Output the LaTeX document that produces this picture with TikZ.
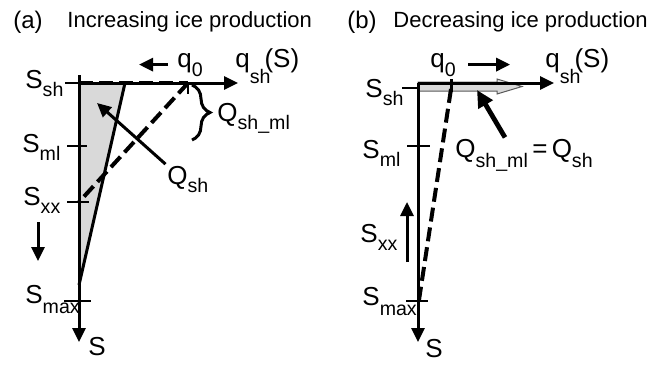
\documentclass[tikz,border=0pt]{standalone}
\usepackage{fontspec}
\setmainfont{Liberation Sans}
\usetikzlibrary{arrows.meta,positioning,calc,decorations.pathreplacing}
\newcommand{\lowsub}[2][4pt]{\raisebox{-#1}{\fontsize{9.8}{10}\selectfont #2}}
\newcommand{\lblfont}{\fontsize{13}{15}\selectfont}

\begin{document}
\begin{tikzpicture}[x=0.5pt,y=-0.5pt,
   lbl/.style={font=\lblfont,inner sep=0pt,anchor=base west},
   ttl/.style={font=\fontsize{11}{13}\selectfont,inner sep=0pt,anchor=base west},
   panel/.style={font=\fontsize{12}{14}\selectfont,inner sep=0pt,anchor=base west},
   axis/.style={line width=1.5pt,-{Triangle[length=7pt,width=6.5pt]}},
   tick/.style={line width=0.6pt},
   dashline/.style={line width=2pt,dash pattern=on 7pt off 3pt},
   movearrow/.style={line width=1.5pt,-{Triangle[length=7pt,width=6.5pt]}},
   fluxarrow/.style={line width=2.4pt,-{Triangle[length=8.5pt,width=8pt]}}]
  \useasboundingbox (0,0) rectangle (667,364);

  % ---- (a) increasing ice production
  \node[panel] (pa) at (13,28) {(a)};
  \node[ttl] (ta) at (67,27) {Increasing ice production};

  \coordinate (aO) at (79,83);
  \coordinate (aTop) at (79,75);
  \coordinate (aX) at (238,83);
  \coordinate (aY) at (79,342);
  \coordinate (aQ) at (188,83);
  \coordinate (aR) at (125,83);
  \coordinate (aB) at (79,285);
  \coordinate (aML) at (79,146);
  \coordinate (aXX) at (79,202);
  \coordinate (aMX) at (79,301);
  \coordinate (aIn) at (97,103);

  \fill[black!15] (aO) -- (aR) -- (aB) -- cycle;
  \draw[line width=1.5pt] (aR) -- (aB);
  \draw[dashline] (aQ) -- (aXX);
  \draw[axis] (aTop) -- (aY);
  \draw[axis] (aO) -- (aX);
  \draw[dashline] (aO) -- (aQ);
  \draw[tick] (aO) -- ++(-14,0);
  \draw[tick] ($(aML)+(-12,0)$) -- ++(20,0);
  \draw[tick] ($(aXX)+(-12,0)$) -- ++(22,0);
  \draw[tick] ($(aMX)+(-15,0)$) -- ++(27,0);
  \draw[tick] (aQ) -- ++(0,11);
  \draw[line width=1.5pt,decorate,decoration={brace,amplitude=9pt}]
    (192,85) -- (192,140);

  \node[lbl] (ssha) at (25,88) {S\lowsub{sh}};
  \node[lbl] (smla) at (22,152) {S\lowsub{ml}};
  \node[lbl] (sxxa) at (23,205) {S\lowsub{xx}};
  \node[lbl] (smxa) at (25,303) {S\lowsub[5pt]{max}};
  \node[lbl] (sa) at (88,355) {S};
  \node[lbl] (q0a) at (177,67) {q\lowsub[4.5pt]{0}};
  \node[lbl] (qsa) at (235,67) {q\lowsub[8pt]{sh}\kern-3pt(S)};
  \node[lbl] (qmla) at (217,121) {Q\lowsub{sh\_ml}};
  \node[lbl] (qsha) at (167,184) {Q\lowsub{sh}};

  \coordinate (aDn1) at (38,222);
  \coordinate (aDn2) at (38,261);
  \draw[movearrow] (aDn1) -- (aDn2);
  \draw[movearrow] ($(q0a.west)+(-9,0)$) -- ++(-29,0);
  \draw[movearrow,shorten <=1pt] (qsha.north west) -- (aIn);

  % ---- (b) decreasing ice production
  \node[panel] (pb) at (347,28) {(b)};
  \node[ttl] (tb) at (393,27) {Decreasing ice production};

  \coordinate (bO) at (418,83);
  \coordinate (bX) at (554,83);
  \coordinate (bY) at (418,342);
  \coordinate (bQ) at (451,83);
  \coordinate (bSh) at (418,88);
  \coordinate (bML) at (418,146);
  \coordinate (bMX) at (418,301);
  \coordinate (bEnd) at (419,300);
  \coordinate (bTip) at (477,90);

  \filldraw[fill=black!15,draw=black!65,line width=0.5pt]
    (418,82) -- (497,82) -- (497,79) -- (522,86.5) -- (497,94) -- (497,91) -- (418,91) -- cycle;
  \draw[dashline] ($(bQ)+(0,6)$) -- (bEnd);
  \draw[axis] (bO) -- (bY);
  \draw[axis] (bO) -- (bX);
  \draw[line width=1.5pt] ($(bQ)+(0,-4)$) -- ++(0,13);
  \draw[tick] (bSh) -- ++(-16,0);
  \draw[tick] ($(bML)+(-11,0)$) -- ++(23,0);
  \draw[tick] ($(bMX)+(-12,0)$) -- ++(22,0);

  \node[lbl] (sshb) at (365,97) {S\lowsub{sh}};
  \node[lbl] (smlb) at (362,158) {S\lowsub{ml}};
  \node[lbl] (sxxb) at (360,242) {S\lowsub{xx}};
  \node[lbl] (smxb) at (362,305) {S\lowsub[5pt]{max}};
  \node[lbl] (sb) at (425,357) {S};
  \node[lbl] (q0b) at (430,67) {q\lowsub[4.5pt]{0}};
  \node[lbl] (qsb) at (545,67) {q\lowsub[8pt]{sh}\kern-3pt(S)};
  \node[lbl] (qmlb) at (455,157) {Q\lowsub[5pt]{sh\_ml}\,=\,Q\lowsub[5pt]{sh}};

  \coordinate (bUp1) at (407,262);
  \coordinate (bUp2) at (407,202);
  \draw[movearrow] (bUp1) -- (bUp2);
  \draw[movearrow] ($(q0b.east)+(12,0)$) -- ++(42,0);
  \draw[fluxarrow] ($(qmlb.north west)+(50,-1)$) -- (bTip);
\end{tikzpicture}
\end{document}
